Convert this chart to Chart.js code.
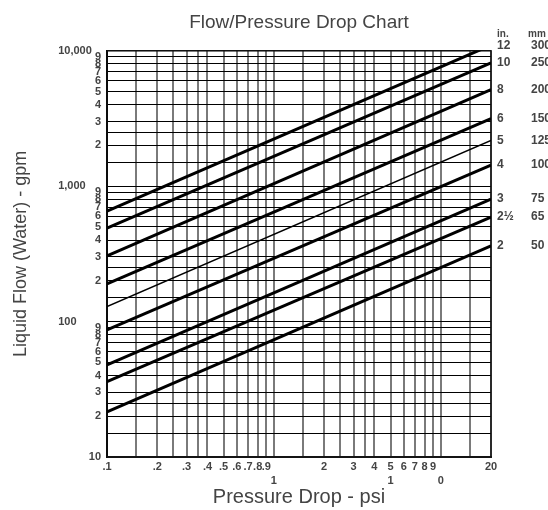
<!DOCTYPE html>
<html>
<head>
<meta charset="utf-8">
<title>Flow/Pressure Drop Chart</title>
<script src="https://cdn.jsdelivr.net/npm/chart.js@4.4.1/dist/chart.umd.min.js"></script>
<style>
  html, body { margin: 0; padding: 0; background: #fff; }
  canvas { display: block; }
</style>
</head>
<body>
<canvas id="flow-chart" width="548" height="510"></canvas>
<script>
// values
const pressureEnds = [0.1, 20]; // psi, where each line starts and ends
const pipeSizesIn = ['12', '10', '8', '6', '5', '4', '3', '2½', '2'];
const pipeSizesMm = ['300', '250', '200', '150', '125', '100', '75', '65', '50'];
const flowAtMin = [655, 490, 306, 190, 129, 87, 48, 36, 21.5];            // gpm at .1 psi
const flowAtMax = [11000, 8160, 5165, 3162, 2180, 1430, 802, 592, 362];   // gpm at 20 psi

const xTickValues = [0.1, 0.15, 0.2, 0.25, 0.3, 0.35, 0.4, 0.5, 0.6, 0.7, 0.8, 0.9,
  1, 1.5, 2, 2.5, 3, 3.5, 4, 5, 6, 7, 8, 9, 10, 15, 20];
const xTickLabels = ['.1', '', '.2', '', '.3', '', '.4', '.5', '.6', '.7', '.8', '.9',
  ['', '1'], '', '2', '', '3', '', '4', ['5', '1'], '6', '7', '8', '9', ['', '0'], '', '20'];

const yTickValues = [10, 15, 20, 25, 30, 40, 50, 60, 70, 80, 90,
  100, 150, 200, 250, 300, 400, 500, 600, 700, 800, 900,
  1000, 1500, 2000, 2500, 3000, 4000, 5000, 6000, 7000, 8000, 9000, 10000];
const yTickLabels = ['10', '', '2', '', '3', '4', '5', '6', '7', '8', '9',
  '100', '', '2', '', '3', '4', '5', '6', '7', '8', '9',
  '1,000', '', '2', '', '3', '4', '5', '6', '7', '8', '9', '10,000'];

const FONT = '"Liberation Sans", Arial, sans-serif';
const TEXT = '#444';

// decade labels sit a bit further left than the digits
const decadePad = { '10,000': 3, '1,000': 5, '100': 8 };

const datasets = pipeSizesIn.map((size, i) => ({
    label: size + ' in.',
    data: [
        { x: pressureEnds[0], y: flowAtMin[i] },
        { x: pressureEnds[1], y: flowAtMax[i] }
    ],
    borderColor: '#000',
    borderWidth: size === '5' ? 1.5 : 3,
    pointRadius: 0,
    fill: false,
    tension: 0
}));

// frame round the plot
const framePlugin = {
    id: 'frame',
    beforeDatasetsDraw(chart) {
        const { ctx, chartArea: a } = chart;
        ctx.save();
        ctx.strokeStyle = '#111';
        ctx.lineWidth = 1.5;
        ctx.strokeRect(a.left, a.top, a.right - a.left, a.bottom - a.top);
        ctx.restore();
    }
};

// pipe size labels at the right end of each line
const sizeLabelPlugin = {
    id: 'sizeLabels',
    afterDraw(chart) {
        const { ctx, chartArea, scales } = chart;
        const xIn = chartArea.right + 6;
        const xMm = chartArea.right + 40;
        ctx.save();
        ctx.fillStyle = TEXT;
        ctx.textAlign = 'left';
        ctx.textBaseline = 'middle';
        ctx.font = 'bold 10px ' + FONT;
        ctx.fillText('in.', xIn, chartArea.top - 17);
        ctx.fillText('mm', xMm - 3, chartArea.top - 17);
        ctx.font = 'bold 12px ' + FONT;
        pipeSizesIn.forEach((size, i) => {
            const y = scales.y.getPixelForValue(flowAtMax[i]);
            ctx.fillText(size, xIn, y);
            ctx.fillText(pipeSizesMm[i], xMm, y);
        });
        ctx.restore();
    }
};

const ctx = document.getElementById('flow-chart').getContext('2d');
const flowChart = new Chart(ctx, {
    type: 'line',
    data: { datasets: datasets },
    plugins: [framePlugin, sizeLabelPlugin],
    options: {
        responsive: false,
        animation: false,
        layout: { padding: { left: 0, right: 57, top: 0, bottom: 0 } },
        plugins: {
            legend: { display: false },
            tooltip: { enabled: false },
            title: {
                display: true,
                text: 'Flow/Pressure Drop Chart',
                fullSize: false,
                color: TEXT,
                font: { family: FONT, size: 19, weight: 'normal' },
                padding: { top: 11, bottom: 17 }
            }
        },
        scales: {
            x: {
                type: 'logarithmic',
                min: 0.1,
                max: 20,
                afterBuildTicks: scale => {
                    scale.ticks = xTickValues.map(v => ({ value: v }));
                },
                afterFit: scale => { scale.height = 53; },
                grid: { color: '#7a7a7a', lineWidth: 2, drawTicks: false },
                border: { color: '#222', width: 2 },
                ticks: {
                    autoSkip: false,
                    maxRotation: 0,
                    minRotation: 0,
                    padding: 3,
                    color: TEXT,
                    font: { family: FONT, size: 11, weight: 'bold', lineHeight: 1.3 },
                    callback: (value, index) => xTickLabels[index]
                },
                title: {
                    display: true,
                    text: 'Pressure Drop - psi',
                    color: TEXT,
                    font: { family: FONT, size: 20 },
                    padding: { top: 0, bottom: 1 }
                }
            },
            y: {
                type: 'logarithmic',
                min: 10,
                max: 10000,
                afterBuildTicks: scale => {
                    scale.ticks = yTickValues.map(v => ({ value: v }));
                },
                afterFit: scale => { scale.width = 107; },
                grid: { color: '#000', lineWidth: 1, drawTicks: false },
                border: { color: '#000', width: 2 },
                ticks: {
                    autoSkip: false,
                    padding: 6,
                    color: TEXT,
                    font: { family: FONT, size: 11, weight: 'bold' },
                    callback: (value, index) => {
                        const lbl = yTickLabels[index];
                        return lbl + ' '.repeat(decadePad[lbl] || 0);
                    }
                },
                title: {
                    display: true,
                    text: 'Liquid Flow (Water) - gpm',
                    color: TEXT,
                    font: { family: FONT, size: 18 },
                    padding: { top: 10, bottom: 0 }
                }
            }
        }
    }
});
</script>
</body>
</html>
